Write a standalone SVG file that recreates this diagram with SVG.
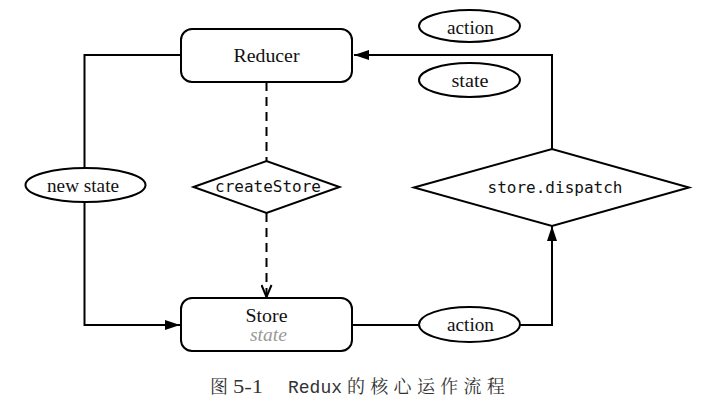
<svg xmlns="http://www.w3.org/2000/svg" width="706" height="407" viewBox="0 0 706 407">
<style>
.shape{fill:#fff;stroke:#000;stroke-width:2}
.line{fill:none;stroke:#000;stroke-width:2}
.dash{fill:none;stroke:#000;stroke-width:2;stroke-dasharray:9 6}
.serif{font-family:"Liberation Serif","Times New Roman",Tinos,"Noto Serif","DejaVu Serif",serif;font-size:19px;fill:#111;text-anchor:middle}
.mono{font-family:"DejaVu Sans Mono",monospace;font-size:16px;fill:#111;text-anchor:middle}
.cap{font-family:"Noto Serif CJK SC","Noto Sans CJK SC",serif;font-size:18px;fill:#333}
.capser{font-family:"Liberation Serif","Times New Roman",Tinos,"Noto Serif","DejaVu Serif",serif;font-size:18px;fill:#333}
.capmono{font-family:"Liberation Mono","Courier New",Cousine,"DejaVu Sans Mono",monospace;font-size:18px;fill:#333}
</style>
<defs>
<marker id="tri" viewBox="0 0 15 10" refX="15" refY="5" markerWidth="15" markerHeight="10" markerUnits="userSpaceOnUse" orient="auto">
<path d="M0,0 L15,5 L0,10 Z" fill="#000"/>
</marker>
<marker id="vee" viewBox="0 0 14 12" refX="13" refY="6" markerWidth="14" markerHeight="12" markerUnits="userSpaceOnUse" orient="auto">
<path d="M1,1 L13,6 L1,11" fill="none" stroke="#000" stroke-width="2"/>
</marker>
</defs>
<g id="connectors">
<path class="line" d="M181,55 H84.5 V168"/>
<path class="line" d="M84.5,202 V325 H180" marker-end="url(#tri)"/>
<path class="dash" d="M266.5,82 V161"/>
<path class="dash" d="M266.5,213 V297" marker-end="url(#vee)"/>
<path class="line" d="M352,325 H419"/>
<path class="line" d="M520,325 H552 V226" marker-end="url(#tri)"/>
<path class="line" d="M552,149 V55 H354" marker-end="url(#tri)"/>
</g>
<g id="reducer">
<rect class="shape" x="181" y="29" width="171" height="53" rx="11"/>
<text class="serif" x="266.5" y="62" textLength="66" lengthAdjust="spacingAndGlyphs">Reducer</text>
</g>
<g id="store">
<rect class="shape" x="181" y="298" width="171" height="53" rx="11"/>
<text class="serif" x="266.5" y="322" textLength="42" lengthAdjust="spacingAndGlyphs">Store</text>
<text class="serif" x="268.5" y="341" textLength="37" lengthAdjust="spacingAndGlyphs" style="font-style:italic;fill:#999">state</text>
</g>
<g id="createStore">
<polygon class="shape" points="193.5,187 266.5,161 339.5,187 266.5,213"/>
<text class="mono" x="268" y="192">createStore</text>
</g>
<g id="dispatch">
<polygon class="shape" points="414,187.5 552,149 689,187.5 552,226"/>
<text class="mono" x="555" y="193">store.dispatch</text>
</g>
<g id="newstate">
<ellipse class="shape" cx="85.5" cy="185" rx="60" ry="17"/>
<text class="serif" x="83" y="191.5" textLength="72" lengthAdjust="spacingAndGlyphs">new state</text>
</g>
<g id="action-top">
<ellipse class="shape" cx="469.5" cy="26" rx="50.5" ry="16"/>
<text class="serif" x="470.5" y="34" textLength="47" lengthAdjust="spacingAndGlyphs">action</text>
</g>
<g id="state-top">
<ellipse class="shape" cx="469.5" cy="80" rx="50.5" ry="17"/>
<text class="serif" x="470" y="86.5" textLength="37" lengthAdjust="spacingAndGlyphs">state</text>
</g>
<g id="action-bottom">
<ellipse class="shape" cx="469.5" cy="324.5" rx="50.5" ry="17.5"/>
<text class="serif" x="470.5" y="330.5" textLength="47" lengthAdjust="spacingAndGlyphs">action</text>
</g>
<g id="caption">
<text class="cap" x="210" y="393">图</text>
<text class="capser" x="233" y="393" textLength="30" lengthAdjust="spacingAndGlyphs">5-1</text>
<text class="capmono" x="288" y="393" textLength="54" lengthAdjust="spacingAndGlyphs">Redux</text>
<text class="cap" x="347" y="393" letter-spacing="5.3">的核心运作流程</text>
</g>
</svg>
